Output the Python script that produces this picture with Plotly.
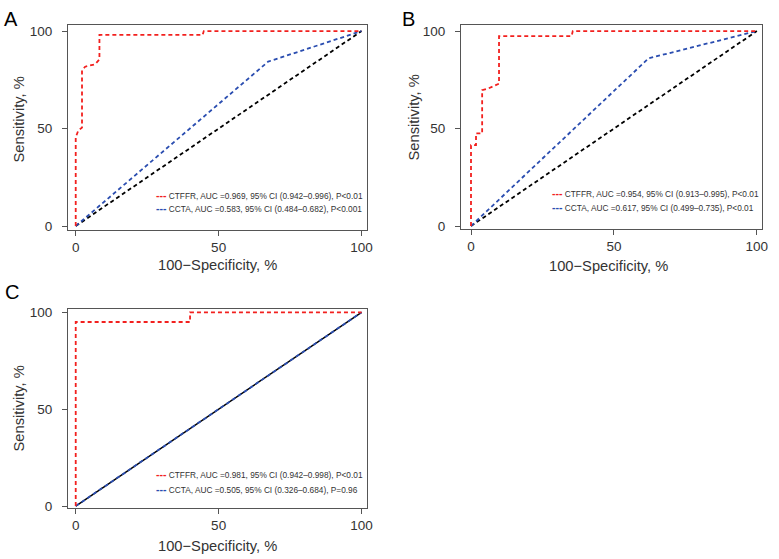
import plotly.graph_objects as go

# ROC points (x = 100-Specificity %, y = Sensitivity %)
a_ctffr_x = [0, 0, 0.9, 2.2, 2.2, 3.3, 6.8, 8.3, 8.3, 44.4, 44.8, 100]
a_ctffr_y = [0, 45.5, 49, 50.5, 80, 81.7, 83, 85.5, 98, 98, 100, 100]
a_ccta_x = [0, 67.3, 100]
a_ccta_y = [0, 84.3, 100]

b_ctffr_x = [0, 0, 1.75, 1.75, 3.9, 3.9, 6, 9.8, 9.8, 35.2, 35.6, 100]
b_ctffr_y = [0, 41.5, 41.5, 47.5, 47.5, 69.7, 70.5, 73, 97.4, 97.4, 100, 100]
b_ccta_x = [0, 62.1, 100]
b_ccta_y = [0, 86, 100]

c_ctffr_x = [0, 0, 40, 40, 100]
c_ctffr_y = [0, 95, 95, 100, 100]
c_ccta_x = [0, 100]
c_ccta_y = [0, 100]

ref_x = [0, 100]
ref_y = [0, 100]

labels = {
    "A": ["CTFFR, AUC =0.969, 95% CI (0.942–0.996), P<0.01",
          "CCTA, AUC =0.583, 95% CI (0.484–0.682), P<0.001"],
    "B": ["CTFFR, AUC =0.954, 95% CI (0.913–0.995), P<0.01",
          "CCTA, AUC =0.617, 95% CI (0.499–0.735), P<0.01"],
    "C": ["CTFFR, AUC =0.981, 95% CI (0.942–0.998), P<0.01",
          "CCTA, AUC =0.505, 95% CI (0.326–0.684), P=0.96"],
}

RED = "#f2201e"
BLUE = "#2a4db0"
DASH = "4px,3px"
FONT = "Liberation Sans, Arial, sans-serif"
TXT = "#333333"

W, H = 779, 559


def px(x):
    return x / W


def py(y):
    return 1 - y / H


# panel boxes in pixels (left, right, top, bottom), ranges, text spots
panels = [
    dict(key="A", ax="", box=(68, 367, 25, 230), xr=[-2.7, 101.9], yr=[-2, 103.1],
         ctffr=(a_ctffr_x, a_ctffr_y), ccta=(a_ccta_x, a_ccta_y),
         letter=(11, 19), ytitle=(18, 119.5), xtitle=(217, 265), leg=(154, 195, 208)),
    dict(key="B", ax="2", box=(461, 762, 25, 229), xr=[-3.5, 101.8], yr=[-1.5, 103.1],
         ctffr=(b_ctffr_x, b_ctffr_y), ccta=(b_ccta_x, b_ccta_y),
         letter=(408, 19), ytitle=(413, 117.5), xtitle=(608, 266), leg=(550, 193, 207)),
    dict(key="C", ax="3", box=(68, 367, 309, 508), xr=[-2.7, 101.9], yr=[-1, 101.7],
         ctffr=(c_ctffr_x, c_ctffr_y), ccta=(c_ccta_x, c_ccta_y),
         letter=(11.5, 291.5), ytitle=(18, 408.5), xtitle=(217, 546), leg=(154, 474, 489)),
]

fig = go.Figure()
layout = dict(
    width=W, height=H,
    margin=dict(l=0, r=0, t=0, b=0),
    plot_bgcolor="white", paper_bgcolor="white",
    font=dict(family=FONT, color=TXT, size=14),
    showlegend=False,
    annotations=[],
)

for p in panels:
    xa, ya = "x" + p["ax"], "y" + p["ax"]
    l, r, t, b = p["box"]
    axis_common = dict(
        showline=True, mirror=True, linecolor="#555555", linewidth=1,
        ticks="outside", ticklen=5, tickcolor="#555555", automargin=False,
        tickvals=[0, 50, 100], showgrid=False, zeroline=False,
        tickfont=dict(size=13.5, color=TXT),
    )
    layout["xaxis" + p["ax"]] = dict(
        axis_common, domain=[px(l), px(r)], range=p["xr"], anchor=ya,
        ticklabelstandoff=0,
    )
    layout["yaxis" + p["ax"]] = dict(
        axis_common, domain=[py(b), py(t)], range=p["yr"], anchor=xa,
        ticklabelstandoff=7,
    )
    # reference diagonal
    if p["key"] == "C":
        ref_line = dict(color="black", width=1.5)
    else:
        ref_line = dict(color="black", width=1.8, dash=DASH)
    fig.add_trace(go.Scatter(x=ref_x, y=ref_y, mode="lines", xaxis=xa, yaxis=ya,
                             line=ref_line, hoverinfo="skip"))
    fig.add_trace(go.Scatter(x=p["ccta"][0], y=p["ccta"][1], mode="lines",
                             xaxis=xa, yaxis=ya, name=labels[p["key"]][1],
                             line=dict(color=BLUE, width=1.8, dash=DASH)))
    fig.add_trace(go.Scatter(x=p["ctffr"][0], y=p["ctffr"][1], mode="lines",
                             xaxis=xa, yaxis=ya, name=labels[p["key"]][0],
                             line=dict(color=RED, width=1.8, dash=DASH)))

    ann = layout["annotations"]
    ann.append(dict(text=p["key"], x=px(p["letter"][0]), y=py(p["letter"][1]),
                    font=dict(size=20, color="black")))
    ann.append(dict(text="Sensitivity, %", textangle=-90,
                    x=px(p["ytitle"][0]), y=py(p["ytitle"][1]),
                    font=dict(size=14.7, color=TXT)))
    ann.append(dict(text="100−Specificity, %",
                    x=px(p["xtitle"][0]), y=py(p["xtitle"][1]),
                    font=dict(size=14.7, color=TXT)))
    # legend entries
    lx, ly1, ly2 = p["leg"]
    for text, color, yy in [(labels[p["key"]][0], RED, ly1),
                            (labels[p["key"]][1], BLUE, ly2)]:
        ann.append(dict(
            text=f'<span style="color:{color};font-size:10.5px"><b>---</b></span> {text}',
            x=px(lx), y=py(yy), xanchor="left",
            font=dict(size=8.3, color=TXT),
        ))

for a in layout["annotations"]:
    a.update(xref="paper", yref="paper", showarrow=False)
    a.setdefault("xanchor", "center")
    a.setdefault("yanchor", "middle")

fig.update_layout(**layout)
# drop the page's default body margin so the figure sits at the window corner
fig.write_html("out.html", config={"displayModeBar": False},
               post_script="document.body.style.margin = '0';")
